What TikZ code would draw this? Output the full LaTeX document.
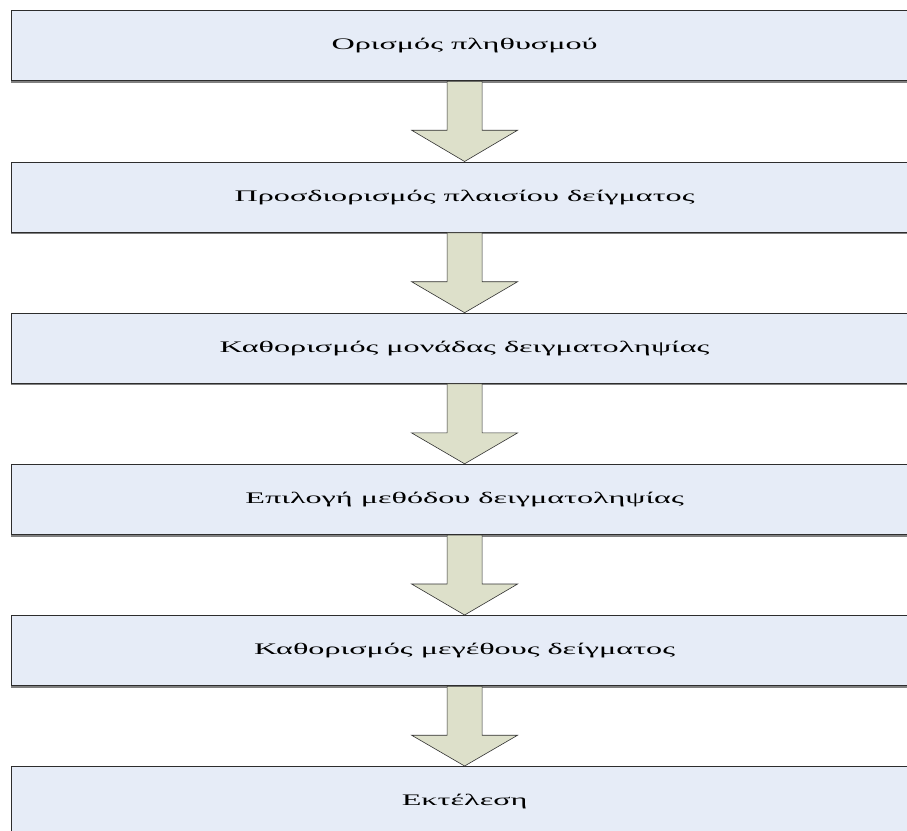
\documentclass[tikz,border=0pt]{standalone}
\usepackage{fontspec}
\setmainfont{Liberation Serif}
% the step labels are set in a horizontally extended serif
\newfontfamily\widefont[FakeStretch=2.0]{Liberation Serif}
\usetikzlibrary{calc}

\definecolor{boxfill}{RGB}{230,236,247}
\definecolor{boxline}{RGB}{45,45,45}
\definecolor{shadowline}{RGB}{128,128,128}
\definecolor{arrowfill}{RGB}{221,224,202}
\definecolor{arrowline}{RGB}{50,50,50}

\tikzset{
  stepbox/.style={
    rectangle, anchor=north west,
    fill=boxfill, draw=boxline, line width=1.2pt,
    minimum width=906pt, minimum height=70pt,
    inner sep=0pt,
    font=\widefont\fontsize{16.1pt}{18pt}\selectfont
  },
  blockarrow/.style={
    fill=arrowfill, draw=arrowline, line width=0.6pt, line join=miter
  }
}

% block arrow from the bottom of one box to the top of the next
\newcommand{\flowarrow}[2]{%
  \draw[blockarrow]
    ($(#1.south)+(-17.5pt,0)$) --
    ($(#1.south)+(17.5pt,0)$) --
    ($(#1.south)+(17.5pt,-49pt)$) --
    ($(#1.south)+(53pt,-49pt)$) --
    (#2.north) --
    ($(#1.south)+(-53pt,-49pt)$) --
    ($(#1.south)+(-17.5pt,-49pt)$) -- cycle;
}

\begin{document}
\begin{tikzpicture}[x=1pt,y=1pt]
  \useasboundingbox (0,0) rectangle (907,-830);
  \fill[white] (0,0) rectangle (907,-830);

  \node[stepbox] (s1) at (11,-10)    {Ορισμός πληθυσμού};
  \node[stepbox] (s2) at (11,-161.5) {Προσδιορισμός πλαισίου δείγματος};
  \node[stepbox] (s3) at (11,-312.7) {Καθορισμός μονάδας δειγματοληψίας};
  \node[stepbox] (s4) at (11,-463.8) {Επιλογή μεθόδου δειγματοληψίας};
  \node[stepbox] (s5) at (11,-615)   {Καθορισμός μεγέθους δείγματος};
  \node[stepbox] (s6) at (11,-766)   {Εκτέλεση};

  % grey shadow along the lower edge of each box
  \foreach \n in {s1,s2,s3,s4,s5,s6}{
    \draw[shadowline, line width=1.4pt]
      ($(\n.south west)+(0,-0.8pt)$) -- ($(\n.south east)+(0,-0.8pt)$);
  }

  \flowarrow{s1}{s2}
  \flowarrow{s2}{s3}
  \flowarrow{s3}{s4}
  \flowarrow{s4}{s5}
  \flowarrow{s5}{s6}
\end{tikzpicture}
\end{document}
